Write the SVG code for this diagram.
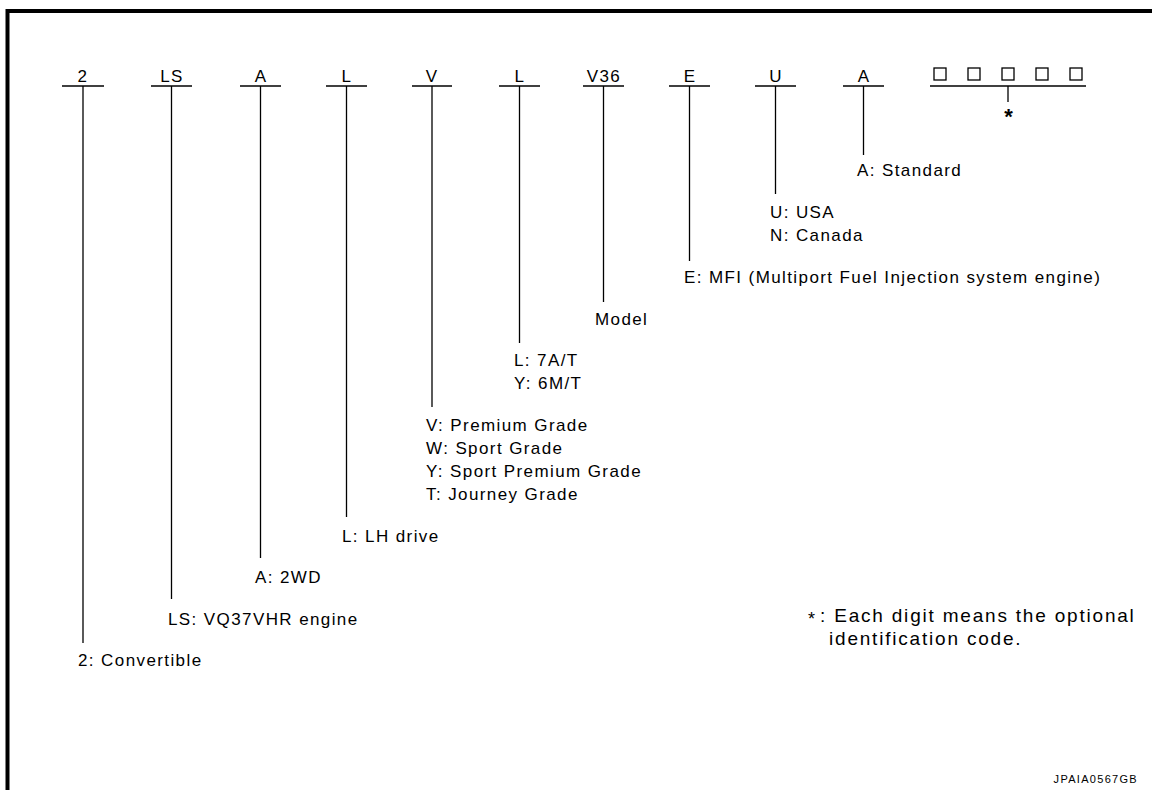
<svg xmlns="http://www.w3.org/2000/svg" width="1152" height="790" viewBox="0 0 1152 790">
<style>
.t{font-family:"Liberation Sans",Arial,sans-serif;font-size:17px;letter-spacing:1.4px;fill:#000}
.c{text-anchor:middle}
.u{stroke:#000;stroke-width:1.5;fill:none}
.v{stroke:#000;stroke-width:1.3;fill:none}
.bx{stroke:#000;stroke-width:1.3;fill:#fff}
.fn{font-family:"Liberation Sans",Arial,sans-serif;font-size:19px;letter-spacing:1.8px;fill:#000}
.id{font-family:"Liberation Sans",Arial,sans-serif;font-size:11px;letter-spacing:1.3px;fill:#000;text-anchor:end}
</style>
<rect width="1152" height="790" fill="#fff"/>
<path d="M7.5 790 V11 H1152" stroke="#000" stroke-width="4" fill="none"/>

<g id="codes">
<g id="code-2"><text class="t c" x="83" y="82">2</text><line class="u" x1="62" y1="86" x2="104" y2="86"/></g>
<g id="code-LS"><text class="t c" x="172" y="82">LS</text><line class="u" x1="151" y1="86" x2="192" y2="86"/></g>
<g id="code-A1"><text class="t c" x="261" y="82">A</text><line class="u" x1="240" y1="86" x2="281" y2="86"/></g>
<g id="code-L1"><text class="t c" x="347" y="82">L</text><line class="u" x1="326" y1="86" x2="367" y2="86"/></g>
<g id="code-V"><text class="t c" x="432" y="82">V</text><line class="u" x1="412" y1="86" x2="452" y2="86"/></g>
<g id="code-L2"><text class="t c" x="520" y="82">L</text><line class="u" x1="499" y1="86" x2="540" y2="86"/></g>
<g id="code-V36"><text class="t c" x="604" y="82">V36</text><line class="u" x1="583" y1="86" x2="624" y2="86"/></g>
<g id="code-E"><text class="t c" x="690" y="82">E</text><line class="u" x1="669" y1="86" x2="710" y2="86"/></g>
<g id="code-U"><text class="t c" x="776" y="82">U</text><line class="u" x1="755" y1="86" x2="796" y2="86"/></g>
<g id="code-A2"><text class="t c" x="864" y="82">A</text><line class="u" x1="843" y1="86" x2="884" y2="86"/></g>
<g id="code-boxes">
<rect class="bx" x="934" y="68" width="12" height="12"/>
<rect class="bx" x="968" y="68" width="12" height="12"/>
<rect class="bx" x="1002" y="68" width="12" height="12"/>
<rect class="bx" x="1036" y="68" width="12" height="12"/>
<rect class="bx" x="1070" y="68" width="12" height="12"/>
<line class="u" x1="930" y1="86" x2="1086" y2="86"/>
</g>
<g id="code-star"><text class="t c" x="1008.5" y="124" style="font-size:22px;font-weight:bold;letter-spacing:0">*</text></g>
</g>

<g id="connectors">
<line class="v" x1="83" y1="86" x2="83" y2="643"/>
<line class="v" x1="171.5" y1="86" x2="171.5" y2="599"/>
<line class="v" x1="260.5" y1="86" x2="260.5" y2="558"/>
<line class="v" x1="346.5" y1="86" x2="346.5" y2="517"/>
<line class="v" x1="432" y1="86" x2="432" y2="407"/>
<line class="v" x1="519.5" y1="86" x2="519.5" y2="343"/>
<line class="v" x1="603.5" y1="86" x2="603.5" y2="302"/>
<line class="v" x1="689.5" y1="86" x2="689.5" y2="261"/>
<line class="v" x1="775.5" y1="86" x2="775.5" y2="194"/>
<line class="v" x1="863.5" y1="86" x2="863.5" y2="155"/>
<line class="v" x1="1008" y1="86" x2="1008" y2="102"/>
</g>

<g id="desc-2"><text class="t" x="78" y="666">2: Convertible</text></g>
<g id="desc-LS"><text class="t" x="168" y="625">LS: VQ37VHR engine</text></g>
<g id="desc-A1"><text class="t" x="255" y="583">A: 2WD</text></g>
<g id="desc-L1"><text class="t" x="342" y="542">L: LH drive</text></g>
<g id="desc-V">
<text class="t" x="426" y="431">V: Premium Grade</text>
<text class="t" x="426" y="454">W: Sport Grade</text>
<text class="t" x="426" y="477">Y: Sport Premium Grade</text>
<text class="t" x="426" y="500">T: Journey Grade</text>
</g>
<g id="desc-L2">
<text class="t" x="514" y="366">L: 7A/T</text>
<text class="t" x="514" y="389">Y: 6M/T</text>
</g>
<g id="desc-V36"><text class="t" x="595" y="325">Model</text></g>
<g id="desc-E"><text class="t" x="684" y="283">E: MFI (Multiport Fuel Injection system engine)</text></g>
<g id="desc-U">
<text class="t" x="770" y="218">U: USA</text>
<text class="t" x="770" y="241">N: Canada</text>
</g>
<g id="desc-A2"><text class="t" x="857" y="176">A: Standard</text></g>

<g id="footnote">
<text class="fn" x="808" y="625" style="font-size:18px;letter-spacing:0">*</text>
<text class="fn" x="820" y="622">: Each digit means the optional</text>
<text class="fn" x="829" y="645">identification code.</text>
</g>
<text class="id" x="1138" y="783">JPAIA0567GB</text>
</svg>
